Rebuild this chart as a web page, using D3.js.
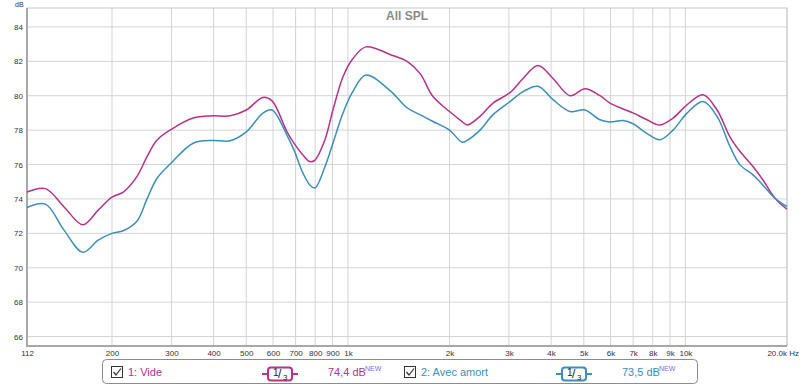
<!DOCTYPE html>
<html>
<head>
    <script src="https://d3js.org/d3.v7.min.js"></script>
    <style>
        body { margin: 0; background: #fff; }
        text { font-family: "Liberation Sans", Arial, sans-serif; }
    </style>
</head>
<body>
    <script>
        // frequencies (Hz) and SPL (dB)
        const freqs = [112, 127, 144, 164, 182, 200, 216, 237, 254, 272, 300, 348, 398, 448, 500, 560, 596,
            660, 692, 736, 772, 799, 855, 903, 967, 1028, 1131, 1333, 1497, 1635, 1787, 2000, 2179, 2254,
            2463, 2692, 3023, 3303, 3658, 4053, 4551, 5041, 5585, 5980, 6533, 6996, 7696, 8410, 9192,
            10111, 11280, 12410, 13560, 14520, 15860, 16980, 18430, 20000];
        const vide = [74.4, 74.6, 73.55, 72.5, 73.35, 74.1, 74.4, 75.3, 76.46, 77.43, 78.05, 78.7, 78.83, 78.83, 79.17, 79.9, 79.7,
            77.9, 77.24, 76.55, 76.17, 76.26, 77.44, 79.17, 81.1, 82.08, 82.84, 82.4, 82.0, 81.3, 79.95, 79.08, 78.5, 78.3,
            78.8, 79.57, 80.18, 81.0, 81.75, 81.0, 80.0, 80.4, 80.0, 79.57, 79.23, 79.0, 78.6, 78.3, 78.7,
            79.47, 80.05, 79.17, 77.6, 76.76, 75.89, 75.1, 74.04, 73.4];
        const avecAmort = [73.5, 73.7, 72.2, 70.9, 71.6, 72.0, 72.15, 72.7, 74.0, 75.2, 76.1, 77.24, 77.4, 77.38, 77.9, 78.99, 79.17,
            77.7, 76.85, 75.5, 74.8, 74.64, 75.87, 77.24, 78.99, 80.15, 81.2, 80.3, 79.3, 78.9, 78.5, 78.0, 77.3, 77.4,
            78.0, 78.9, 79.66, 80.24, 80.55, 79.77, 79.08, 79.17, 78.6, 78.47, 78.56, 78.37, 77.8, 77.44, 78.0,
            78.99, 79.66, 78.8, 77.04, 75.98, 75.4, 74.8, 74.04, 73.56];

        const xTicks = [112, 200, 300, 400, 500, 600, 700, 800, 900, 1000, 2000, 3000, 4000, 5000, 6000, 7000, 8000, 9000, 10000];
        const xTickLabels = ['112', '200', '300', '400', '500', '600', '700', '800', '900', '1k', '2k', '3k', '4k', '5k', '6k', '7k', '8k', '9k', '10k'];
        const yTicks = [66, 68, 70, 72, 74, 76, 78, 80, 82, 84];

        const series = [
            { name: '1: Vide', values: vide, color: '#b8318a', level: '74,4 dB' },
            { name: '2: Avec amort', values: avecAmort, color: '#3b8fba', level: '73,5 dB' }
        ];

        const width = 800, height = 386;
        const plot = { left: 27, right: 787, top: 8, bottom: 346 };

        const svg = d3.select('body').append('svg')
            .attr('width', width)
            .attr('height', height);

        const x = d3.scaleLog()
            .domain([112, 20000])
            .range([plot.left, plot.right]);

        const y = d3.scaleLinear()
            .domain([65.45, 85.1])
            .range([plot.bottom, plot.top]);

        // grid
        svg.append('g')
            .selectAll('line')
            .data(xTicks.slice(1).concat([20000]))
            .join('line')
            .attr('x1', d => x(d)).attr('x2', d => x(d))
            .attr('y1', plot.top).attr('y2', plot.bottom)
            .attr('stroke', '#d4d4d4');

        svg.append('g')
            .selectAll('line')
            .data(yTicks)
            .join('line')
            .attr('x1', plot.left).attr('x2', plot.right)
            .attr('y1', d => y(d)).attr('y2', d => y(d))
            .attr('stroke', '#d4d4d4');

        // frame
        svg.append('rect')
            .attr('x', plot.left).attr('y', plot.top)
            .attr('width', plot.right - plot.left).attr('height', plot.bottom - plot.top)
            .attr('fill', 'none').attr('stroke', '#c8c8c8');
        svg.append('path')
            .attr('d', `M${plot.left},${plot.top}V${plot.bottom}H${plot.right}`)
            .attr('fill', 'none').attr('stroke', '#a8a8a8').attr('stroke-width', 2);

        // axes labels
        const yAxis = svg.append('g')
            .attr('transform', `translate(${plot.left - 4},0)`)
            .call(d3.axisLeft(y).tickValues(yTicks).tickSize(0).tickPadding(0));
        yAxis.select('.domain').remove();
        yAxis.selectAll('text').attr('font-size', 8).attr('fill', '#333').attr('font-family', 'Liberation Sans, Arial, sans-serif');

        const xAxis = svg.append('g')
            .attr('transform', `translate(0,${plot.bottom + 4})`)
            .call(d3.axisBottom(x).tickValues(xTicks).tickSize(0).tickPadding(0)
                .tickFormat((d, i) => xTickLabels[i]));
        xAxis.select('.domain').remove();
        xAxis.selectAll('text').attr('font-size', 8).attr('fill', '#333').attr('font-family', 'Liberation Sans, Arial, sans-serif');

        svg.append('text')
            .attr('x', 799).attr('y', 356)
            .attr('text-anchor', 'end')
            .attr('font-size', 8).attr('fill', '#333')
            .text('20.0k Hz');

        svg.append('text')
            .attr('x', 15).attr('y', 7)
            .attr('font-size', 7).attr('fill', '#333')
            .text('dB');

        svg.append('text')
            .attr('x', (plot.left + plot.right) / 2).attr('y', 20)
            .attr('text-anchor', 'middle')
            .attr('font-size', 12).attr('font-weight', 'bold').attr('fill', '#8a8a8a')
            .text('All SPL');

        // curves
        const line = d3.line()
            .x((d, i) => x(freqs[i]))
            .y(d => y(d))
            .curve(d3.curveCatmullRom.alpha(0.5));

        svg.append('g')
            .attr('clip-path', null)
            .selectAll('path')
            .data(series)
            .join('path')
            .attr('fill', 'none')
            .attr('stroke', d => d.color)
            .attr('stroke-width', 1.5)
            .attr('d', d => line(d.values));

        // legend
        const legend = svg.append('g');
        legend.append('rect')
            .attr('x', 102.5).attr('y', 359.5)
            .attr('width', 595).attr('height', 24)
            .attr('rx', 4)
            .attr('fill', '#fff').attr('stroke', '#8c8c8c');

        const itemX = [111, 404];
        const fracX = [262, 556];
        const levelX = [328, 622];

        series.forEach((s, i) => {
            const g = legend.append('g');
            // checkbox
            g.append('rect')
                .attr('x', itemX[i] + 0.5).attr('y', 366.5)
                .attr('width', 11).attr('height', 11)
                .attr('fill', '#fff').attr('stroke', '#333');
            g.append('path')
                .attr('d', `M${itemX[i] + 2.5},${372}L${itemX[i] + 5},${375}L${itemX[i] + 10},${368.5}`)
                .attr('fill', 'none').attr('stroke', '#333').attr('stroke-width', 1.2);
            g.append('text')
                .attr('x', itemX[i] + 17).attr('y', 376)
                .attr('font-size', 11).attr('fill', s.color)
                .text(s.name);

            // smoothing badge
            const fx = fracX[i];
            g.append('line')
                .attr('x1', fx).attr('x2', fx + 36)
                .attr('y1', 374).attr('y2', 374)
                .attr('stroke', s.color).attr('stroke-width', 2);
            g.append('rect')
                .attr('x', fx + 6).attr('y', 367.5)
                .attr('width', 24).attr('height', 13)
                .attr('rx', 3)
                .attr('fill', '#fff').attr('stroke', s.color).attr('stroke-width', 2);
            g.append('text')
                .attr('x', fx + 11).attr('y', 376)
                .attr('font-size', 10).attr('fill', '#222')
                .text('1');
            g.append('text')
                .attr('x', fx + 16).attr('y', 378)
                .attr('font-size', 12).attr('fill', '#222')
                .text('/');
            g.append('text')
                .attr('x', fx + 21).attr('y', 380)
                .attr('font-size', 8).attr('fill', '#222')
                .text('3');

            // level
            g.append('text')
                .attr('x', levelX[i]).attr('y', 376)
                .attr('font-size', 11).attr('fill', s.color)
                .text(s.level);
            g.append('text')
                .attr('x', levelX[i] + 37).attr('y', 371)
                .attr('font-size', 7).attr('fill', '#7b6ee6')
                .text('NEW');
        });
    </script>
</body>
</html>
